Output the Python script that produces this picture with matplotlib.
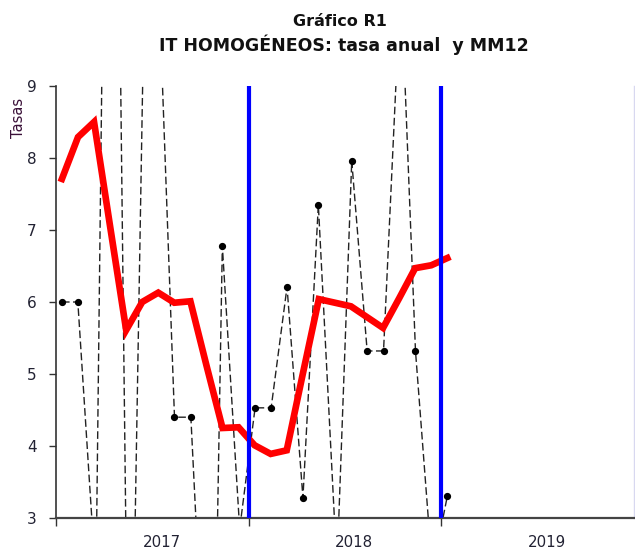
import matplotlib.pyplot as plt
import numpy as np

# meses contados desde enero 2017
t_mm12 = np.arange(25) + 0.37
mm12 = [7.71, 8.29, 8.50, 7.05, 5.61, 6.00, 6.13, 5.99, 6.01, 5.12, 4.25, 4.26,
        4.01, 3.89, 3.94, 5.00, 6.04, 5.99, 5.94, 5.79, 5.64, 6.05, 6.47, 6.51, 6.61]

# tasa anual (varios valores fuera de escala)
t_anual = [0.37, 1.36, 2.49, 3.44, 4.58, 5.58, 6.39, 7.38, 8.40, 9.71, 10.36, 11.44,
           12.40, 13.40, 14.39, 15.38, 16.34, 17.50, 18.42, 19.38, 20.40, 21.48,
           22.39, 23.44, 24.37]
tasa_anual = [6.00, 6.00, 2.10, 20.4, -1.6, 11.4, 10.5, 4.40, 4.40, -1.5, 6.78, 2.85,
              4.53, 4.53, 6.21, 3.28, 7.35, 2.30, 7.96, 5.32, 5.32, 10.5, 5.32, 2.26,
              3.30]

cortes_anio = [12, 24]
anios = ['2017', '2018', '2019']
pos_anios = [6.6, 18.55, 30.6]

fig = plt.figure(figsize=(6.35, 5.49), dpi=100)
ax = fig.add_axes([56/635, 31/549, 578/635, 432/549])

ax.plot(t_anual, tasa_anual, color='#222222', lw=1.0, dashes=(5.5, 2.5),
        marker='o', markersize=4.2, markerfacecolor='black',
        markeredgecolor='black', zorder=2)
ax.plot(t_mm12, mm12, color='#ff0000', lw=4.8, solid_joinstyle='miter', zorder=3)
for c in cortes_anio:
    ax.axvline(c, color='#0000ff', lw=3, zorder=4)

ax.set_xlim(0, 36)
ax.set_ylim(3, 9)
ax.set_yticks(range(3, 10))

ax.set_xticks([0, 12, 24])
ax.set_xticklabels([])
ax.set_xticks(pos_anios, minor=True)
ax.set_xticklabels(anios, minor=True)
ax.tick_params(axis='x', which='major', length=6, width=1, color='#333333', direction='out')
ax.tick_params(axis='x', which='minor', length=0, pad=12, labelsize=10.8, labelcolor='#222233')
ax.tick_params(axis='y', length=5, width=1, color='#333333', pad=9, labelsize=11,
               labelcolor='#222233')

ax.spines['top'].set_visible(False)
ax.spines['right'].set_color('#d8d8f0')
ax.spines['right'].set_linewidth(1)
ax.spines['left'].set_color('#333333')
ax.spines['left'].set_linewidth(1.2)
ax.spines['bottom'].set_color('#444444')
ax.spines['bottom'].set_linewidth(1.6)

ax.set_ylabel('Tasas', fontsize=10.5, color='#3a1038')
ax.yaxis.set_label_coords(-0.052, 0.925)

fig.text(340/635, 1 - 22/549, 'Gráfico R1', ha='center', va='center',
         fontsize=11.5, fontweight='bold', color='#111111')
fig.text(344/635, 1 - 45/549, 'IT HOMOGÉNEOS: tasa anual  y MM12', ha='center',
         va='center', fontsize=12.5, fontweight='bold', color='#111111')

fig.savefig('out.png', dpi=100)
